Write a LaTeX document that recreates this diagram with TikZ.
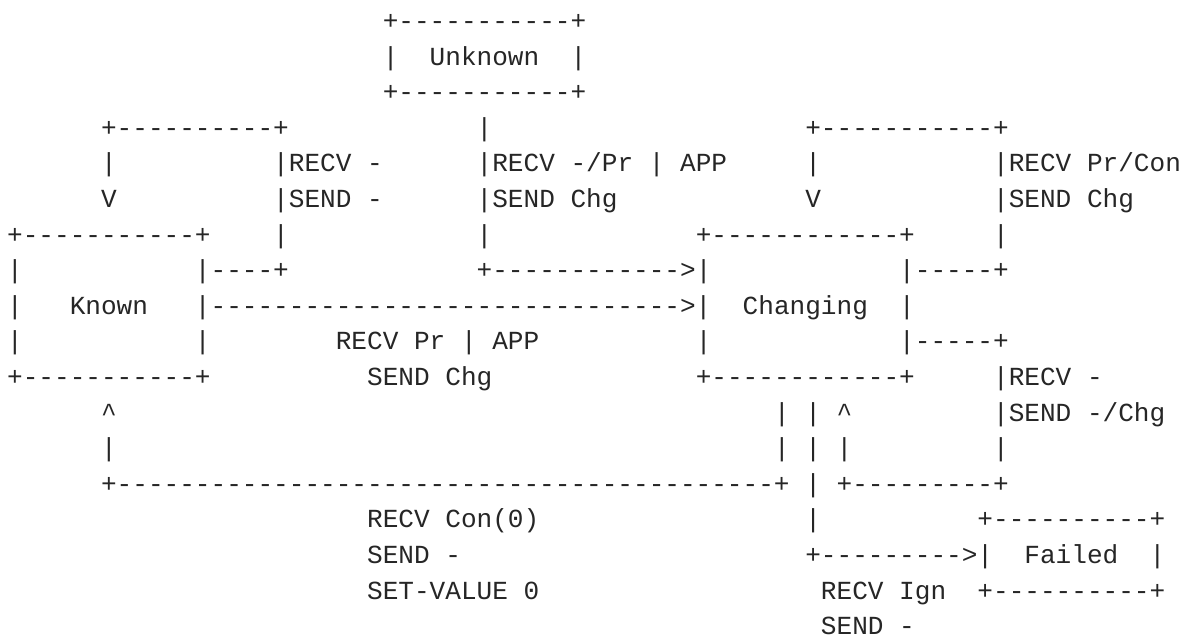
\documentclass[tikz,border=0pt]{standalone}
\usepackage{fontspec}
\newfontfamily\ascfont{Liberation Mono}[Ligatures=TeXOff]
\definecolor{ink}{HTML}{262626}
\newcommand\ascseg[4]{\node[seg] (#1) at ({7.175+15.65*#2},{29.4+35.6*(#3-1)}) {#4};}
\begin{document}
\begin{tikzpicture}[x=1pt,y=-1pt,
  seg/.style={anchor=base west,inner sep=0pt,outer sep=0pt,text=ink,
              font=\ascfont\fontsize{26.08pt}{30pt}\selectfont}]
\fill[white] (0,0) rectangle (1183,640);
\useasboundingbox (0,0) rectangle (1183,640);
% row 1-3: Unknown box
\ascseg{unkTop}{24}{1}{+-----------+}
\ascseg{unkL}{24}{2}{|}
\ascseg{unknown}{27}{2}{Unknown}
\ascseg{unkR}{36}{2}{|}
\ascseg{unkBot}{24}{3}{+-----------+}
% row 4
\ascseg{r4a}{6}{4}{+----------+}
\ascseg{r4b}{30}{4}{|}
\ascseg{r4c}{51}{4}{+-----------+}
% row 5
\ascseg{r5a}{6}{5}{|}
\ascseg{r5b}{17}{5}{|RECV}
\ascseg{r5c}{23}{5}{-}
\ascseg{r5d}{30}{5}{|RECV}
\ascseg{r5e}{36}{5}{-/Pr}
\ascseg{r5f}{41}{5}{|}
\ascseg{r5g}{43}{5}{APP}
\ascseg{r5h}{51}{5}{|}
\ascseg{r5i}{63}{5}{|RECV}
\ascseg{r5j}{69}{5}{Pr/Con}
% row 6
\ascseg{r6a}{6}{6}{V}
\ascseg{r6b}{17}{6}{|SEND}
\ascseg{r6c}{23}{6}{-}
\ascseg{r6d}{30}{6}{|SEND}
\ascseg{r6e}{36}{6}{Chg}
\ascseg{r6f}{51}{6}{V}
\ascseg{r6g}{63}{6}{|SEND}
\ascseg{r6h}{69}{6}{Chg}
% row 7
\ascseg{knTop}{0}{7}{+-----------+}
\ascseg{r7b}{17}{7}{|}
\ascseg{r7c}{30}{7}{|}
\ascseg{chTop}{44}{7}{+------------+}
\ascseg{r7e}{63}{7}{|}
% row 8
\ascseg{r8a}{0}{8}{|}
\ascseg{r8b}{12}{8}{|----+}
\ascseg{r8c}{30}{8}{+------------>|}
\ascseg{r8d}{57}{8}{|-----+}
% row 9
\ascseg{r9a}{0}{9}{|}
\ascseg{known}{4}{9}{Known}
\ascseg{r9c}{12}{9}{|------------------------------>|}
\ascseg{changing}{47}{9}{Changing}
\ascseg{r9e}{57}{9}{|}
% row 10
\ascseg{r10a}{0}{10}{|}
\ascseg{r10b}{12}{10}{|}
\ascseg{r10c}{21}{10}{RECV}
\ascseg{r10d}{26}{10}{Pr}
\ascseg{r10e}{29}{10}{|}
\ascseg{r10f}{31}{10}{APP}
\ascseg{r10g}{44}{10}{|}
\ascseg{r10h}{57}{10}{|-----+}
% row 11
\ascseg{knBot}{0}{11}{+-----------+}
\ascseg{r11b}{23}{11}{SEND}
\ascseg{r11c}{28}{11}{Chg}
\ascseg{chBot}{44}{11}{+------------+}
\ascseg{r11e}{63}{11}{|RECV}
\ascseg{r11f}{69}{11}{-}
% row 12
\ascseg{r12a}{6}{12}{\textasciicircum}
\ascseg{r12b}{49}{12}{|}
\ascseg{r12c}{51}{12}{|}
\ascseg{r12d}{53}{12}{\textasciicircum}
\ascseg{r12e}{63}{12}{|SEND}
\ascseg{r12f}{69}{12}{-/Chg}
% row 13
\ascseg{r13a}{6}{13}{|}
\ascseg{r13b}{49}{13}{|}
\ascseg{r13c}{51}{13}{|}
\ascseg{r13d}{53}{13}{|}
\ascseg{r13e}{63}{13}{|}
% row 14
\ascseg{r14a}{6}{14}{+------------------------------------------+}
\ascseg{r14b}{51}{14}{|}
\ascseg{r14c}{53}{14}{+---------+}
% row 15
\ascseg{r15a}{23}{15}{RECV}
\ascseg{r15b}{28}{15}{Con(0)}
\ascseg{r15c}{51}{15}{|}
\ascseg{faTop}{62}{15}{+----------+}
% row 16
\ascseg{r16a}{23}{16}{SEND}
\ascseg{r16b}{28}{16}{-}
\ascseg{r16c}{51}{16}{+--------->|}
\ascseg{failed}{65}{16}{Failed}
\ascseg{r16e}{73}{16}{|}
% row 17
\ascseg{r17a}{23}{17}{SET-VALUE}
\ascseg{r17b}{33}{17}{0}
\ascseg{r17c}{52}{17}{RECV}
\ascseg{r17d}{57}{17}{Ign}
\ascseg{faBot}{62}{17}{+----------+}
% row 18
\ascseg{r18a}{52}{18}{SEND}
\ascseg{r18b}{57}{18}{-}
\end{tikzpicture}
\end{document}
